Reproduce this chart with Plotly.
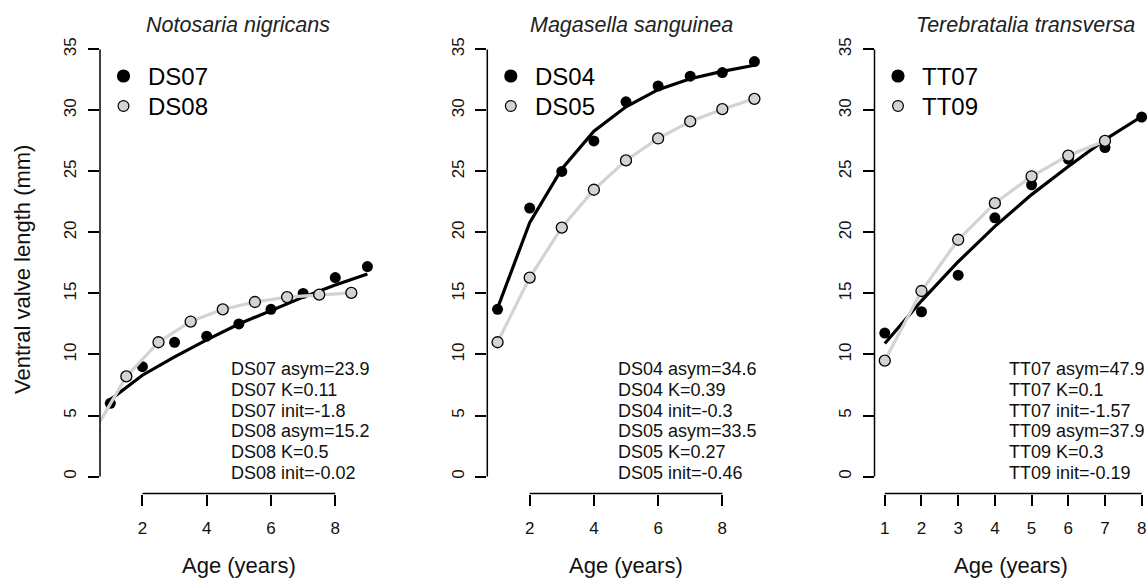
import plotly.graph_objects as go

W, H = 1148, 581
FONT = "Liberation Sans, Arial, Helvetica, sans-serif"
GRAY = "#d3d3d3"
BLACK = "#000000"

# ---------------- data ----------------
titles = ["Notosaria nigricans", "Magasella sanguinea", "Terebratalia transversa"]
names_a = ["DS07", "DS04", "TT07"]
names_b = ["DS08", "DS05", "TT09"]

# Panel 1: Notosaria nigricans
ds07_age = [1, 2, 3, 4, 5, 6, 7, 8, 9]
ds07_len = [6.0, 9.0, 11.0, 11.5, 12.5, 13.7, 15.0, 16.3, 17.2]
ds07_fit = [6.3, 8.3, 9.8, 11.2, 12.5, 13.6, 14.7, 15.7, 16.6]
ds08_age = [0.5, 1.5, 2.5, 3.5, 4.5, 5.5, 6.5, 7.5, 8.5]
ds08_len = [3.7, 8.2, 11.0, 12.7, 13.7, 14.3, 14.7, 14.9, 15.05]

# Panel 2: Magasella sanguinea
ds04_age = [1, 2, 3, 4, 5, 6, 7, 8, 9]
ds04_len = [13.7, 22.0, 25.0, 27.5, 30.7, 32.0, 32.8, 33.1, 34.0]
ds04_fit = [13.8, 20.8, 25.2, 28.3, 30.3, 31.7, 32.6, 33.2, 33.7]
ds05_age = [1, 2, 3, 4, 5, 6, 7, 8, 9]
ds05_len = [11.0, 16.3, 20.4, 23.5, 25.9, 27.7, 29.1, 30.1, 30.95]

# Panel 3: Terebratalia transversa
tt07_age = [1, 2, 3, 4, 5, 6, 7, 8]
tt07_len = [11.75, 13.5, 16.5, 21.2, 23.9, 26.0, 26.95, 29.45]
tt07_fit = [10.9, 14.4, 17.6, 20.5, 23.1, 25.4, 27.6, 29.5]
tt09_age = [1, 2, 3, 4, 5, 6, 7]
tt09_len = [9.5, 15.2, 19.4, 22.4, 24.6, 26.3, 27.5]

stats_1 = ["DS07 asym=23.9", "DS07 K=0.11", "DS07 init=-1.8",
           "DS08 asym=15.2", "DS08 K=0.5", "DS08 init=-0.02"]
stats_2 = ["DS04 asym=34.6", "DS04 K=0.39", "DS04 init=-0.3",
           "DS05 asym=33.5", "DS05 K=0.27", "DS05 init=-0.46"]
stats_3 = ["TT07 asym=47.9", "TT07 K=0.1", "TT07 init=-1.57",
           "TT09 asym=37.9", "TT09 K=0.3", "TT09 init=-0.19"]

x_ticks_1 = [2, 4, 6, 8]
x_ticks_2 = [2, 4, 6, 8]
x_ticks_3 = [1, 2, 3, 4, 5, 6, 7, 8]
y_ticks = [0, 5, 10, 15, 20, 25, 30, 35]

panels = [
    dict(title=titles[0], a=(ds07_age, ds07_len, ds07_fit), b=(ds08_age, ds08_len),
         na=names_a[0], nb=names_b[0], stats=stats_1, xt=x_ticks_1),
    dict(title=titles[1], a=(ds04_age, ds04_len, ds04_fit), b=(ds05_age, ds05_len),
         na=names_a[1], nb=names_b[1], stats=stats_2, xt=x_ticks_2),
    dict(title=titles[2], a=(tt07_age, tt07_len, tt07_fit), b=(tt09_age, tt09_len),
         na=names_a[2], nb=names_b[2], stats=stats_3, xt=x_ticks_3),
]

# ---------------- layout geometry (pixels) ----------------
dom_px = [(100, 377.7), (487.3, 764.7), (874.5, 1148)]
x_ranges = [(0.68, 9.32), (0.68, 9.32), (0.72, 8.172)]
y_range = (-1.4, 36.4)
y_dom = (1 - 493.6 / H, 1 - 32.3 / H)
title_cx = [238.3, 631.7, 1025.8]
stats_x = [4.69, 4.68, 4.32]
stats_y0, stats_dy = 8.8, 1.7

fig = go.Figure()
shapes = []
annotations = []
layout_axes = {}

for i, p in enumerate(panels):
    s = "" if i == 0 else str(i + 1)
    xa, ya = "x" + s, "y" + s
    age_a, len_a, fit_a = p["a"]
    age_b, len_b = p["b"]

    fig.add_trace(go.Scatter(x=age_a, y=fit_a, mode="lines", xaxis=xa, yaxis=ya,
                             line=dict(color=BLACK, width=3.2), showlegend=False,
                             name=p["na"] + " fit"))
    fig.add_trace(go.Scatter(x=age_a, y=len_a, mode="markers", xaxis=xa, yaxis=ya,
                             marker=dict(color=BLACK, size=11), showlegend=False,
                             name=p["na"]))
    fig.add_trace(go.Scatter(x=age_b, y=len_b, mode="lines+markers", xaxis=xa, yaxis=ya,
                             line=dict(color=GRAY, width=3.2),
                             marker=dict(color=GRAY, size=11,
                                         line=dict(color=BLACK, width=1.3)),
                             showlegend=False, name=p["nb"]))

    x0, x1 = x_ranges[i]
    d0, d1 = dom_px[i][0] / W, dom_px[i][1] / W
    axis_common = dict(showgrid=False, zeroline=False, showline=False,
                       ticks="outside", ticklen=11, tickwidth=1.5, tickcolor=BLACK,
                       tickfont=dict(family=FONT, size=17, color="#111"))
    layout_axes["xaxis" + s] = dict(axis_common, domain=[d0, d1], range=[x0, x1],
                                    tickvals=p["xt"], ticktext=[str(t) for t in p["xt"]],
                                    anchor=ya, ticklabelstandoff=8)
    layout_axes["yaxis" + s] = dict(axis_common, domain=list(y_dom), range=list(y_range),
                                    tickvals=y_ticks, ticktext=[str(t) for t in y_ticks],
                                    tickangle=-90, anchor=xa, ticklabelstandoff=5)

    # R-style axis lines spanning first to last tick
    yr0, yr1 = y_range
    shapes.append(dict(type="line", xref=xa + " domain", yref=ya + " domain",
                       x0=0, x1=0,
                       y0=(min(y_ticks) - yr0) / (yr1 - yr0),
                       y1=(max(y_ticks) - yr0) / (yr1 - yr0),
                       line=dict(color=BLACK, width=1.5)))
    shapes.append(dict(type="line", xref=xa + " domain", yref=ya + " domain",
                       y0=0, y1=0,
                       x0=(min(p["xt"]) - x0) / (x1 - x0),
                       x1=(max(p["xt"]) - x0) / (x1 - x0),
                       line=dict(color=BLACK, width=1.5)))

    # panel title
    annotations.append(dict(text="<i>" + p["title"] + "</i>", xref="paper", yref="paper",
                            x=title_cx[i] / W, y=1 - 25 / H, xanchor="center", yanchor="middle",
                            showarrow=False, font=dict(family=FONT, size=21.5, color="#222")))
    # x axis title
    annotations.append(dict(text="Age (years)", xref="paper", yref="paper",
                            x=(dom_px[i][0] + dom_px[i][1]) / 2 / W, y=1 - 565 / H,
                            xanchor="center", yanchor="middle", showarrow=False,
                            font=dict(family=FONT, size=22, color="#111")))
    # stats text
    for k, line in enumerate(p["stats"]):
        annotations.append(dict(text=line, xref=xa, yref=ya, x=stats_x[i],
                                y=stats_y0 - k * stats_dy, xanchor="left", yanchor="middle",
                                showarrow=False, font=dict(family=FONT, size=18, color="#111")))

    # legend (top-left of each panel)
    left = dom_px[i][0]
    for j, (nm, fill, r, lw) in enumerate([(p["na"], BLACK, 6.6, 0),
                                           (p["nb"], GRAY, 5.4, 1.2)]):
        cy = 76 + j * 30
        cx = left + 23.5
        shapes.append(dict(type="circle", xref="paper", yref="paper",
                           xsizemode="pixel", ysizemode="pixel",
                           xanchor=cx / W, yanchor=1 - cy / H,
                           x0=-r, x1=r, y0=-r, y1=r,
                           fillcolor=fill, line=dict(color=BLACK, width=lw)))
        annotations.append(dict(text=nm, xref="paper", yref="paper",
                                x=(cx + 22) / W, y=1 - (cy + 1) / H, xanchor="left",
                                yanchor="middle", showarrow=False,
                                font=dict(family=FONT, size=24, color=BLACK)))

# y axis title (first panel only)
annotations.append(dict(text="Ventral valve length (mm)", xref="paper", yref="paper",
                        x=22 / W, y=1 - 270 / H, xanchor="center", yanchor="middle",
                        textangle=-90, showarrow=False,
                        font=dict(family=FONT, size=22, color="#111")))

fig.update_layout(
    width=W, height=H,
    margin=dict(l=0, r=0, t=0, b=0),
    paper_bgcolor="white", plot_bgcolor="white",
    showlegend=False,
    shapes=shapes, annotations=annotations,
    **layout_axes,
)

fig.write_html("out.html")
